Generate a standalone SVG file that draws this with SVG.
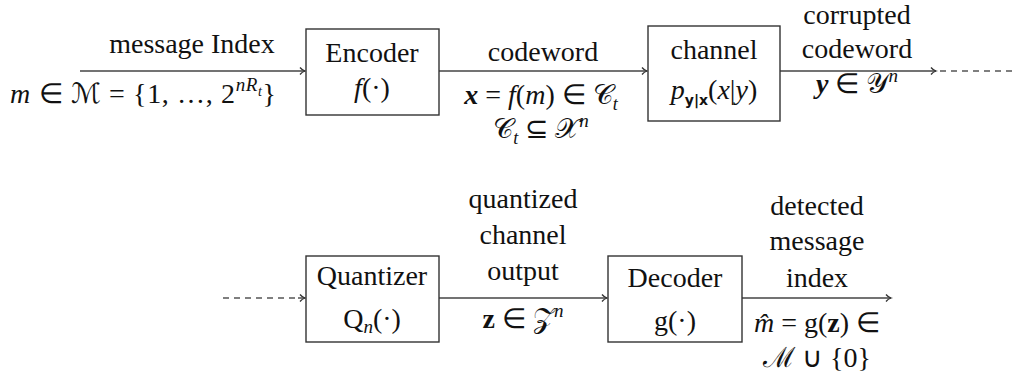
<svg xmlns="http://www.w3.org/2000/svg" width="1013" height="381" viewBox="0 0 1013 381">
  <style>
    .c { text-anchor: middle; }
    .i { font-style: italic; }
    .b { font-weight: bold; font-style: italic; }
    .box { fill: #fff; stroke: #333; stroke-width: 1.4; }
    .wire { fill: none; stroke: #444; stroke-width: 1.4; }
    .dash { fill: none; stroke: #555; stroke-width: 1.4; stroke-dasharray: 6 5; }
  </style>
  <defs>
    <marker id="arr" markerWidth="10" markerHeight="10" refX="7" refY="5" orient="auto" markerUnits="userSpaceOnUse">
      <path d="M2,1.5 Q4,4 7,5 Q4,6 2,8.5" fill="none" stroke="#333" stroke-width="1.3"/>
    </marker>
  </defs>

  <!-- connectors -->
  <g id="connectors">
    <line class="wire" x1="80" y1="71" x2="305" y2="71" marker-end="url(#arr)"/>
    <line class="wire" x1="439" y1="71" x2="647" y2="71" marker-end="url(#arr)"/>
    <line class="wire" x1="780" y1="71" x2="936" y2="71" marker-end="url(#arr)"/>
    <line class="dash" x1="940" y1="71" x2="1013" y2="71"/>
    <line class="dash" x1="223" y1="298" x2="300" y2="298"/>
    <line class="wire" x1="298" y1="298" x2="305" y2="298" marker-end="url(#arr)"/>
    <line class="wire" x1="439" y1="298" x2="607" y2="298" marker-end="url(#arr)"/>
    <line class="wire" x1="742" y1="298" x2="891" y2="298" marker-end="url(#arr)"/>
  </g>

  <g font-family="Liberation Serif, serif" font-size="28" fill="#111">
    <!-- input label -->
    <g id="input-label">
      <text class="c" x="192" y="53">message Index</text>
      <text x="10" y="103" textLength="266" lengthAdjust="spacing"><tspan class="i">m</tspan> ∈ ℳ = {1, …, 2<tspan class="i" font-size="19" dy="-12">nR</tspan><tspan class="i" font-size="14" dy="5">t</tspan><tspan dy="7">}</tspan></text>
    </g>

    <g id="encoder">
      <rect class="box" x="306" y="29" width="133" height="86"/>
      <text class="c" x="372" y="62">Encoder</text>
      <text class="c" x="372" y="97"><tspan class="i">f</tspan>(·)</text>
    </g>

    <g id="codeword-label">
      <text class="c" x="543" y="61">codeword</text>
      <text class="c" x="541" y="104"><tspan class="b">x</tspan> = <tspan class="i">f</tspan>(<tspan class="i">m</tspan>) ∈ 𝒞<tspan class="i" font-size="18" dy="6">t</tspan></text>
      <text class="c" x="541" y="138">𝒞<tspan class="i" font-size="18" dy="6">t</tspan><tspan dy="-6"> ⊆ </tspan>𝒳<tspan class="i" font-size="19" dy="-11">n</tspan></text>
    </g>

    <g id="channel">
      <rect class="box" x="648" y="26" width="132" height="95"/>
      <text class="c" x="714" y="59">channel</text>
      <text class="c" x="714" y="99"><tspan class="i">p</tspan><tspan font-family="DejaVu Sans" font-weight="bold" font-size="14" dy="6">y|x</tspan><tspan dy="-6">(</tspan><tspan class="i">x</tspan>|<tspan class="i">y</tspan>)</text>
    </g>

    <g id="channel-output-label">
      <text class="c" x="857" y="24">corrupted</text>
      <text class="c" x="857" y="58">codeword</text>
      <text class="c" x="857" y="93"><tspan class="b">y</tspan> ∈ 𝒴<tspan class="i" font-size="19" dy="-11">n</tspan></text>
    </g>

    <g id="quantizer">
      <rect class="box" x="306" y="256" width="133" height="86"/>
      <text class="c" x="372" y="285">Quantizer</text>
      <text class="c" x="372" y="328">Q<tspan class="i" font-size="19" dy="5">n</tspan><tspan dy="-5">(·)</tspan></text>
    </g>

    <g id="quantized-label">
      <text class="c" x="523" y="208">quantized</text>
      <text class="c" x="523" y="244">channel</text>
      <text class="c" x="523" y="280">output</text>
      <text class="c" x="523" y="328"><tspan font-weight="bold">z</tspan> ∈ 𝒵<tspan class="i" font-size="19" dy="-11">n</tspan></text>
    </g>

    <g id="decoder">
      <rect class="box" x="608" y="256" width="134" height="86"/>
      <text class="c" x="675" y="287">Decoder</text>
      <text class="c" x="675" y="330">g(·)</text>
    </g>

    <g id="decoded-label">
      <text class="c" x="817" y="215">detected</text>
      <text class="c" x="817" y="250">message</text>
      <text class="c" x="817" y="287">index</text>
      <text class="c" x="817" y="332"><tspan class="i">m̂</tspan> = g(<tspan font-weight="bold">z</tspan>) ∈</text>
      <text class="c" x="817" y="367">ℳ ∪ {0}</text>
    </g>
  </g>
</svg>
